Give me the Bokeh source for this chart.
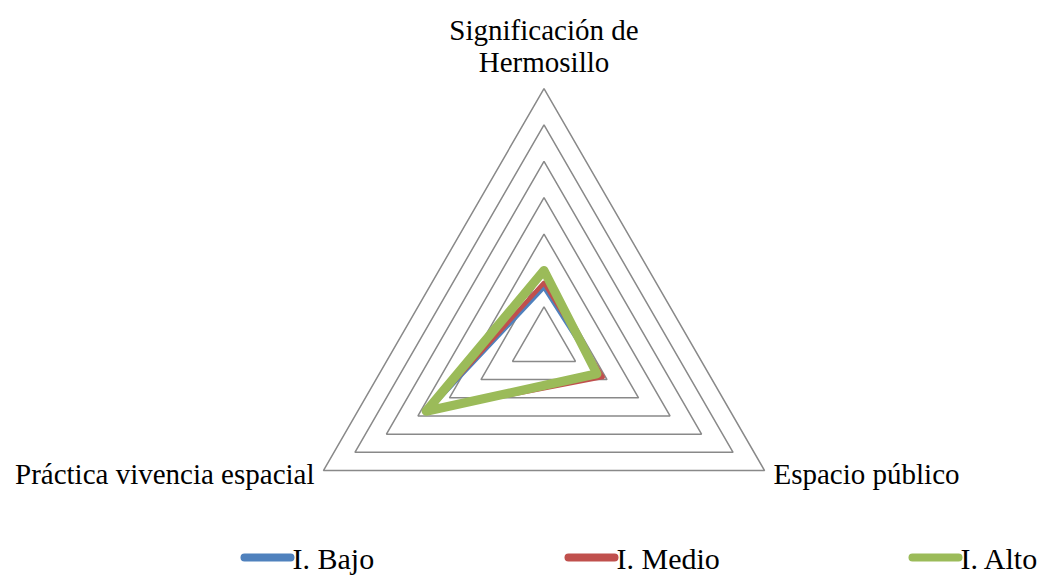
import numpy as np
from bokeh.plotting import figure
from bokeh.models import Range1d
from bokeh.core.properties import value
from bokeh.embed import file_html
from bokeh.resources import INLINE

categories = ["Significación de\nHermosillo", "Espacio público", "Práctica vivencia espacial"]
series_names = ["I. Bajo", "I. Medio", "I. Alto"]
bajo = [0.77, 0.90, 1.83]
medio = [0.83, 0.93, 1.85]
alto = [1.00, 0.84, 1.87]
series_colors = ["#4F81BD", "#C0504D", "#9BBB59"]
series_widths = [4.5, 4.5, 9]
axis_max = 3.5
axis_step = 0.5

W, H = 1040, 575
p = figure(width=W, height=H, output_backend="svg", toolbar_location=None,
           x_range=Range1d(0, W), y_range=Range1d(H, 0), min_border=0)
p.axis.visible = False
p.grid.visible = False
p.outline_line_color = None

cx, cy = 543.5, 342.7
R = 254.7
angles = np.deg2rad([90, -30, 210])


def to_xy(vals):
    vals = np.asarray(vals, dtype=float)
    r = vals / axis_max * R
    return list(cx + r * np.cos(angles)), list(cy - r * np.sin(angles))


# grid triangles
levels = np.arange(axis_step, axis_max + 1e-9, axis_step)
for lv in levels:
    xs, ys = to_xy([lv] * 3)
    p.patch(xs, ys, fill_alpha=0, line_color="#898989", line_width=1.5)

# series
for vals, col, lw in zip([bajo, medio, alto], series_colors, series_widths):
    xs, ys = to_xy(vals)
    p.patch(xs, ys, fill_alpha=0, line_color=col, line_width=lw, line_join="round")

font = value("Liberation Serif")
fs = "29px"
# category labels
p.text(x=[cx, cx], y=[29, 61], text=["Significación de", "Hermosillo"], text_font=font,
       text_font_size=fs, text_align="center", text_baseline="middle", text_color="#000000")
p.text(x=[314], y=[473], text=[categories[2]], text_font=font, text_font_size=fs,
       text_align="right", text_baseline="middle", text_color="#000000")
p.text(x=[773], y=[473], text=[categories[1]], text_font=font, text_font_size=fs,
       text_align="left", text_baseline="middle", text_color="#000000")

# legend
leg_x = [244, 568, 912]
leg_y = 557
for name, col, x0 in zip(series_names, series_colors, leg_x):
    p.line([x0, x0 + 46], [leg_y, leg_y], line_color=col, line_width=8, line_cap="round")
    p.text(x=[x0 + 48], y=[leg_y + 1], text=[name], text_font=font, text_font_size="30px",
           text_align="left", text_baseline="middle", text_color="#000000")

open("out.html", "w").write(file_html(p, INLINE))
